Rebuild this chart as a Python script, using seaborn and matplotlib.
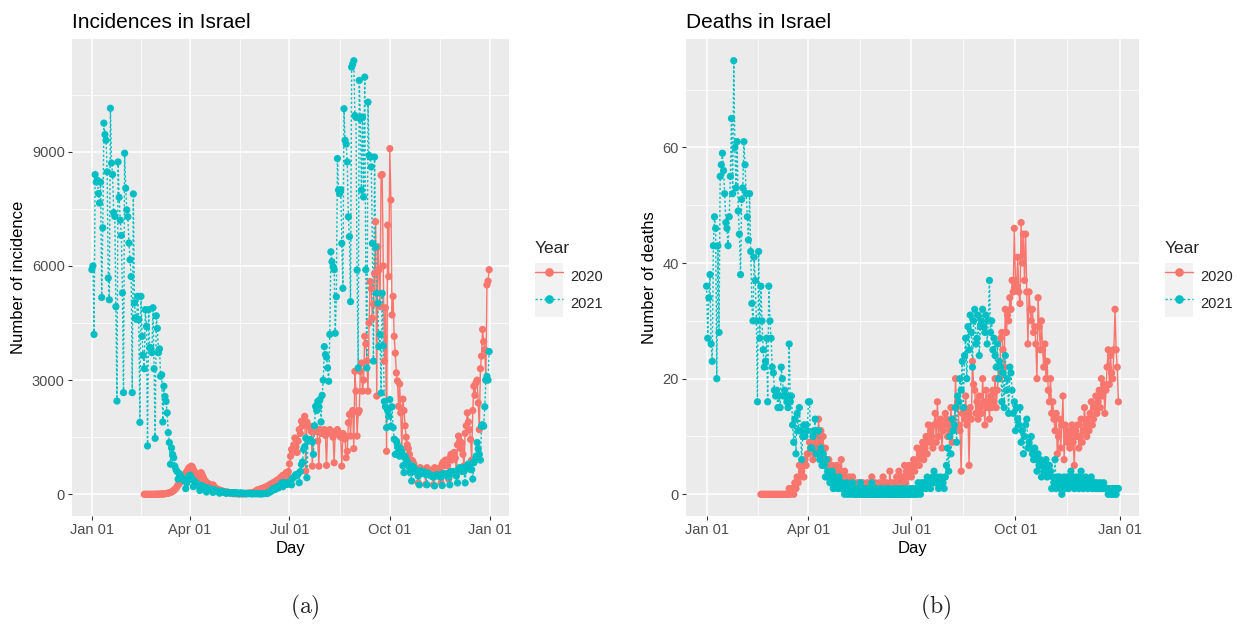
import matplotlib
matplotlib.use("Agg")
import numpy as np
import pandas as pd
import matplotlib.pyplot as plt
import seaborn as sns
from matplotlib.lines import Line2D
from matplotlib.patches import Patch
from matplotlib.legend_handler import HandlerTuple

# ---------------- data ----------------
years = ["2020", "2021"]
colors = {"2020": "#F8766D", "2021": "#00BFC4"}
# both years are drawn on one common calendar (month-day)
start_2020 = "2021-02-18"
start_2021 = "2021-01-01"
x_breaks = ["2021-01-01", "2021-04-01", "2021-07-01", "2021-10-01", "2022-01-01"]
x_labels = ["Jan 01", "Apr 01", "Jul 01", "Oct 01", "Jan 01"]
inc_breaks = [0, 3000, 6000, 9000]
death_breaks = [0, 20, 40, 60]

inc_2020 = [
    # Feb
    0, 0, 0, 1, 0, 0, 0, 0, 2, 0, 1,
    # Mar
    3, 2, 5, 4, 8, 10, 7, 12, 15, 20, 25, 30, 40, 50, 60, 80, 100, 130, 160, 200,
    250, 280, 330, 380, 450, 420, 500, 550, 600, 650, 700,
    # Apr
    700, 740, 720, 650, 600, 550, 500, 450, 400, 420, 570, 520, 450, 380, 350,
    300, 250, 280, 220, 200, 180, 250, 200, 170, 150, 130, 120, 110, 100, 90,
    # May
    80, 70, 60, 50, 60, 40, 30, 40, 30, 20, 25, 15, 20, 20, 15, 10, 15, 20, 10,
    15, 20, 25, 20, 30, 35, 25, 30, 40, 50, 60, 80,
    # Jun
    100, 120, 90, 110, 150, 130, 160, 180, 140, 200, 220, 190, 250, 270, 230,
    300, 320, 280, 350, 380, 300, 400, 450, 380, 500, 480, 420, 570, 520, 600,
    # Jul
    800, 1000, 1180, 1100, 1300, 1480, 1250, 1100, 1400, 1700, 1600, 1920, 1800,
    1950, 2050, 610, 1900, 1790, 1800, 1750, 1650, 740, 1700, 1750, 1650, 1700,
    1400, 740, 1700, 1600, 1650,
    # Aug
    1600, 1700, 1550, 760, 1650, 1600, 1700, 1650, 1600, 1500, 830, 1650, 1600,
    1700, 1600, 1550, 1500, 740, 1600, 1550, 1450, 960, 1130, 1880, 2100, 1530,
    2140, 2200, 1200, 3230, 2710,
    # Sep
    1530, 2140, 2200, 3230, 3450, 2710, 3000, 4150, 3950, 3500, 2710, 4500, 5590,
    5400, 4630, 5000, 5800, 7160, 2580, 6500, 5890, 4930, 8380, 8400, 6000, 3500,
    4900, 1130, 7070, 5720,
    # Oct
    9080, 7730, 4710, 5200, 4150, 3710, 3190, 2980, 2310, 2900, 2140, 1180, 2500,
    2200, 1800, 1500, 1300, 1200, 1050, 600, 900, 870, 800, 700, 650, 600, 300,
    650, 700, 620, 600,
    # Nov
    580, 550, 260, 700, 650, 600, 620, 570, 540, 250, 700, 680, 620, 600, 650,
    700, 300, 800, 850, 750, 900, 800, 750, 400, 950, 1050, 900, 1000, 1100, 950,
    # Dec
    600, 1300, 1530, 1400, 1200, 1350, 1050, 750, 1600, 1800, 2140, 1900, 1700,
    1440, 900, 2200, 2840, 2600, 2930, 3000, 2400, 1700, 3300, 3630, 4330, 4010,
    3800, 3000, 5500, 5600, 5900,
]

inc_2021 = [
    # Jan
    5900, 6000, 4200, 8400, 8200, 8250, 7900, 7650, 8200, 5170, 7000, 9750, 9450,
    9300, 8470, 5680, 5110, 10140, 8700, 8400, 7400, 7300, 4930, 2450, 8730, 7800,
    7200, 6800, 5290, 2670, 8960,
    # Feb
    8040, 7470, 7290, 6600, 6160, 5720, 2670, 7890, 5030, 4640, 4590, 5200, 4590,
    1890, 5200, 4150, 3650, 3300, 4850, 4410, 1270, 4850, 3850, 3850, 3720, 4900,
    3300, 1470,
    # Mar
    4690, 4360, 3720, 3820, 3100, 3140, 1900, 2840, 2570, 2440, 2140, 1620, 1360,
    790, 1220, 1045, 960, 740, 650, 600, 400, 550, 500, 450, 420, 380, 350, 150,
    300, 400, 480,
    # Apr
    500, 450, 380, 200, 350, 300, 280, 250, 220, 100, 240, 220, 200, 180, 160, 60,
    170, 150, 140, 120, 110, 50, 120, 100, 90, 80, 70, 30, 80, 70,
    # May
    60, 55, 50, 25, 55, 50, 45, 40, 40, 20, 45, 40, 35, 35, 30, 15, 35, 30, 30, 25,
    25, 10, 25, 20, 20, 20, 20, 10, 20, 20, 15,
    # Jun
    20, 15, 20, 15, 10, 15, 20, 20, 25, 20, 30, 40, 60, 80, 110, 150, 120, 130,
    160, 200, 170, 220, 250, 300, 200, 310, 300, 290, 260, 280,
    # Jul
    310, 350, 250, 420, 450, 480, 520, 500, 540, 305, 600, 785, 850, 1180, 1250,
    1480, 436, 1400, 1420, 1440, 1400, 1380, 1050, 1800, 2310, 2200, 2440, 2300,
    2490, 1900, 2600,
    # Aug
    3000, 3880, 3670, 3600, 3320, 2970, 4200, 6370, 6110, 5980, 5900, 4230, 5190,
    8820, 7990, 7900, 8000, 6590, 5410, 10130, 9300, 9200, 8730, 7290, 6770, 5060,
    11220, 11300, 11390, 9950, 9900,
    # Sep
    5890, 3320, 10870, 9860, 7990, 9910, 7810, 10960, 5900, 3320, 10300, 8900,
    8860, 8600, 6590, 3500, 8860, 6500, 5280, 5020, 3880, 4200, 2660, 5280, 3900,
    2440, 2300, 1750, 2200, 2050,
    # Oct
    2490, 1790, 2300, 1750, 1450, 1050, 1400, 1300, 1150, 1000, 1200, 1100, 750,
    570, 1000, 900, 850, 800, 700, 560, 350, 740, 700, 650, 600, 560, 480, 250,
    620, 580, 550,
    # Nov
    600, 540, 520, 250, 560, 520, 500, 480, 470, 450, 220, 500, 520, 480, 500,
    470, 450, 230, 550, 520, 500, 540, 480, 450, 250, 600, 580, 560, 600, 520,
    # Dec
    480, 300, 650, 700, 650, 600, 700, 600, 300, 700, 750, 800, 700, 650, 650,
    400, 830, 900, 1000, 1360, 1200, 1050, 900, 1790, 1830, 1790, 2300, 3000,
    3100, 3000, 3750,
]

deaths_2020 = [
    # Feb
    0, 0, 0, 0, 0, 0, 0, 0, 0, 0, 0,
    # Mar
    0, 0, 0, 0, 0, 0, 0, 0, 0, 0, 0, 0, 0, 0, 1, 0, 1, 1, 0, 2, 1, 3, 2, 5, 3, 4,
    5, 3, 6, 5, 7,
    # Apr
    7, 9, 8, 9, 6, 10, 8, 9, 8, 13, 9, 11, 8, 10, 6, 8, 5, 3, 6, 4, 3, 5, 4, 2, 3,
    5, 3, 2, 4, 6,
    # May
    3, 2, 4, 3, 1, 2, 3, 2, 1, 3, 2, 1, 0, 2, 1, 2, 0, 1, 2, 0, 1, 0, 2, 1, 0, 1,
    3, 1, 0, 2, 1,
    # Jun
    1, 0, 2, 0, 1, 3, 1, 0, 2, 1, 0, 4, 1, 2, 0, 1, 2, 3, 1, 4, 2, 3, 1, 3, 5, 2,
    4, 3, 5, 4,
    # Jul
    3, 5, 6, 4, 5, 8, 6, 5, 7, 8, 9, 6, 8, 10, 7, 12, 9, 11, 10, 8, 12, 14, 9, 16,
    10, 12, 13, 8, 11, 12, 14,
    # Aug
    13, 10, 12, 11, 15, 9, 13, 12, 20, 15, 16, 12, 11, 4, 14, 15, 13, 17, 12, 14,
    5, 15, 13, 23, 19, 18, 14, 16, 13, 17, 15,
    # Sep
    14, 20, 16, 12, 18, 15, 16, 13, 17, 15, 18, 16, 20, 15, 18, 22, 20, 27, 28,
    25, 22, 32, 28, 31, 30, 34, 32, 37, 35, 46,
    # Oct
    37, 36, 41, 35, 33, 47, 40, 45, 37, 45, 35, 26, 35, 32, 30, 32, 28, 29, 26,
    20, 34, 29, 25, 30, 25, 22, 26, 20, 23, 18, 16,
    # Nov
    20, 14, 16, 13, 11, 14, 7, 10, 13, 8, 12, 17, 6, 12, 10, 9, 11, 8, 10, 12, 9,
    5, 11, 10, 12, 8, 10, 13, 9, 11,
    # Dec
    15, 12, 10, 13, 11, 14, 16, 12, 13, 15, 17, 14, 16, 18, 15, 20, 17, 19, 14,
    18, 22, 25, 19, 24, 21, 20, 25, 32, 25, 22, 16,
]

deaths_2021 = [
    # Jan
    36, 27, 34, 38, 26, 23, 43, 48, 46, 20, 43, 28, 55, 57, 59, 56, 52, 47, 46,
    43, 48, 55, 65, 52, 75, 60, 53, 61, 49, 45, 38,
    # Feb
    51, 53, 61, 57, 52, 48, 44, 52, 42, 33, 30, 41, 37, 30, 16, 42, 27, 36, 30,
    25, 22, 23, 27, 16, 36, 30, 27, 22,
    # Mar
    21, 18, 17, 18, 15, 17, 15, 22, 20, 17, 18, 17, 16, 15, 26, 16, 17, 12, 9,
    13, 7, 14, 11, 15, 11, 6, 10, 12, 10, 12, 11,
    # Apr
    16, 16, 8, 8, 10, 11, 13, 7, 11, 11, 6, 8, 5, 7, 5, 3, 6, 4, 3, 2, 3, 4, 1, 2,
    3, 2, 1, 3, 2, 1,
    # May
    2, 1, 0, 1, 2, 0, 1, 1, 0, 2, 1, 0, 0, 1, 1, 0, 2, 0, 1, 0, 0, 1, 0, 0, 1, 0,
    2, 0, 0, 1, 0,
    # Jun
    0, 0, 1, 0, 0, 0, 1, 0, 0, 0, 1, 0, 0, 0, 0, 1, 0, 0, 1, 0, 0, 0, 1, 0, 0, 1,
    0, 0, 0, 1,
    # Jul
    0, 1, 0, 0, 1, 0, 2, 1, 0, 2, 1, 2, 2, 1, 3, 2, 2, 1, 2, 3, 4, 2, 2, 3, 1, 2,
    3, 2, 2, 1, 3,
    # Aug
    5, 8, 4, 10, 7, 13, 11, 12, 15, 9, 17, 16, 20, 18, 23, 15, 24, 27, 20, 29, 25,
    31, 28, 22, 30, 32, 26, 27, 31, 24, 29,
    # Sep
    30, 32, 29, 28, 31, 26, 30, 37, 28, 30, 25, 27, 24, 22, 26, 20, 23, 22, 16,
    21, 15, 24, 18, 20, 14, 22, 21, 18, 14, 16,
    # Oct
    11, 15, 13, 12, 15, 9, 11, 7, 10, 12, 13, 8, 9, 8, 10, 7, 6, 8, 6, 4, 7, 5, 6,
    3, 5, 4, 5, 6, 3, 4, 5,
    # Nov
    4, 1, 3, 2, 6, 1, 3, 2, 3, 1, 0, 2, 3, 1, 2, 3, 1, 2, 4, 2, 3, 1, 2, 3, 2, 1,
    3, 4, 2, 1,
    # Dec
    2, 3, 2, 1, 2, 2, 3, 1, 2, 2, 1, 2, 1, 1, 2, 1, 1, 2, 1, 1, 1, 0, 1, 1, 0, 1,
    0, 1, 0, 1, 1,
]

# ---------------- style ----------------
sns.set_theme(style="darkgrid", rc={
    "axes.facecolor": "#EBEBEB",
    "grid.color": "white",
    "axes.edgecolor": "#EBEBEB",
})
plt.rcParams["font.family"] = ["Liberation Sans", "DejaVu Sans"]
plt.rcParams["mathtext.fontset"] = "cm"

W, H = 1249, 629
fig = plt.figure(figsize=(W / 100, H / 100), dpi=100, facecolor="white")


def make_df(v2020, v2021):
    d20 = pd.DataFrame({"Day": pd.date_range(start_2020, periods=len(v2020)),
                        "Value": v2020, "Year": "2020"})
    d21 = pd.DataFrame({"Day": pd.date_range(start_2021, periods=len(v2021)),
                        "Value": v2021, "Year": "2021"})
    return pd.concat([d20, d21], ignore_index=True)


def panel(rect, v2020, v2021, title, ylabel, ybreaks, leg_x):
    ax = fig.add_axes([rect[0] / W, 1 - rect[3] / H, (rect[2] - rect[0]) / W,
                       (rect[3] - rect[1]) / H])
    df = make_df(v2020, v2021)
    sns.lineplot(data=df, x="Day", y="Value", hue="Year", style="Year",
                 palette=colors, dashes={"2020": "", "2021": (1.6, 1.6)},
                 linewidth=1.0, estimator=None, legend=False, ax=ax)
    sns.scatterplot(data=df, x="Day", y="Value", hue="Year", palette=colors,
                    s=27, linewidth=0, legend=False, ax=ax, zorder=3)
    brk = pd.to_datetime(x_breaks)
    ax.set_xticks(brk)
    ax.set_xticklabels(x_labels)
    ax.set_xticks(brk[:-1] + (brk[1:] - brk[:-1]) / 2, minor=True)
    yb = np.array(ybreaks)
    ax.set_yticks(yb)
    ax.set_yticks(np.append(yb[:-1] + np.diff(yb) / 2, yb[-1] + np.diff(yb)[0] / 2),
                  minor=True)
    ax.margins(x=0.05, y=0.05)
    ax.grid(which="major", color="white", linewidth=1.1)
    ax.grid(which="minor", color="white", linewidth=0.55)
    for s in ax.spines.values():
        s.set_visible(False)
    ax.tick_params(which="major", length=3.2, width=0.8, color="#333333",
                   labelcolor="#4D4D4D", labelsize=10.5, pad=2,
                   bottom=True, left=True)
    ax.tick_params(which="minor", length=0)
    ax.set_xlabel("Day", fontsize=12, color="black", labelpad=3)
    ax.set_ylabel(ylabel, fontsize=12, color="black", labelpad=4)
    ax.set_title(title, loc="left", fontsize=15, color="black", pad=8)

    handles = [(Patch(facecolor="#F2F2F2", edgecolor="none"),
                Line2D([], [], color=colors[y], lw=1.0,
                       ls="-" if y == "2020" else (0, (1.6, 1.6)),
                       marker="o", markersize=5.2)) for y in years]
    leg = ax.legend(handles, years, title="Year",
                    handler_map={tuple: HandlerTuple(ndivide=1, pad=0)},
                    loc="upper left", bbox_to_anchor=(leg_x / W, 1 - 241 / H),
                    bbox_transform=fig.transFigure, frameon=False,
                    borderpad=0, borderaxespad=0, handlelength=1.92,
                    handleheight=2.47, labelspacing=0, handletextpad=0.5,
                    fontsize=10.5, title_fontsize=12.5, alignment="left")
    leg._legend_box.sep = 5
    return ax


panel((72, 39, 509, 516), inc_2020, inc_2021, "Incidences in Israel",
      "Number of incidence", inc_breaks, 535)
panel((686, 39, 1139, 516), deaths_2020, deaths_2021, "Deaths in Israel",
      "Number of deaths", death_breaks, 1165)

fig.text(305 / W, 1 - 607 / H, r"$\mathrm{(a)}$", ha="center", va="center",
         fontsize=17)
fig.text(936 / W, 1 - 607 / H, r"$\mathrm{(b)}$", ha="center", va="center",
         fontsize=17)

fig.savefig("out.png", dpi=100, facecolor="white")
